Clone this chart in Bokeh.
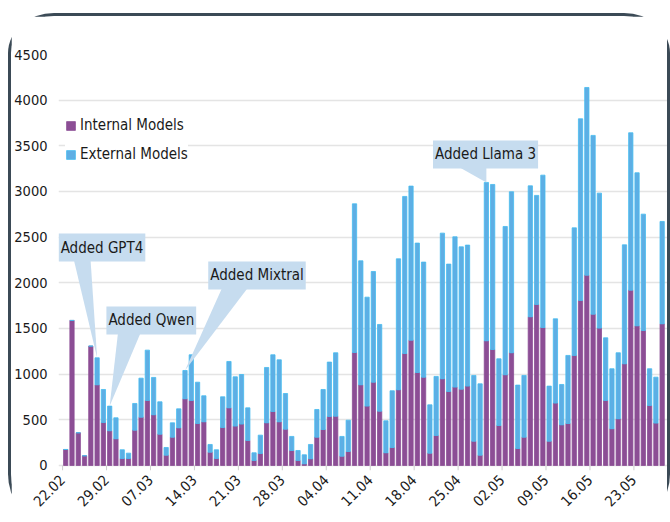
import math
import pandas as pd
from bokeh.plotting import figure
from bokeh.models import ColumnDataSource, FixedTicker, Label, Range1d
from bokeh.embed import file_html
from bokeh.resources import INLINE

# ---- data ----
start_date = "2024-02-22"
n_days = 96
internal = [175, 1588, 358, 106, 1307, 883, 471, 380, 292, 77,
            77, 387, 529, 712, 555, 343, 113, 310, 412, 730,
            712, 460, 478, 146, 77, 416, 631, 431, 453, 274,
            55, 131, 467, 591, 478, 398, 164, 55, 18, 73,
            310, 394, 537, 540, 102, 153, 1237, 883, 650, 912,
            595, 139, 197, 829, 1226, 1372, 1018, 967, 135, 329,
            949, 810, 858, 836, 869, 266, 113, 1365, 1270, 438,
            993, 1234, 186, 310, 1628, 1763, 1511, 266, 683, 445,
            460, 1205, 1807, 2084, 1657, 1504, 712, 402, 511, 1113,
            1920, 1529, 1478, 657, 464, 1551]
external = [0, 0, 0, 0, 0, 296, 361, 270, 230, 95,
            58, 292, 427, 551, 409, 354, 84, 157, 208, 310,
            500, 452, 285, 84, 95, 336, 508, 540, 543, 357,
            84, 201, 606, 621, 679, 390, 154, 109, 99, 157,
            303, 438, 595, 694, 216, 343, 1628, 1358, 1193, 1212,
            949, 350, 621, 1434, 1720, 1687, 1417, 1260, 529, 646,
            1595, 1395, 1646, 1558, 1544, 720, 781, 1734, 1807, 730,
            1624, 1763, 694, 676, 1434, 1194, 1668, 603, 923, 442,
            745, 1397, 1989, 2055, 1957, 1478, 686, 657, 723, 1303,
            1723, 1676, 1274, 402, 503, 1121]
series_labels = ["Internal Models", "External Models"]
y_ticks = [0, 500, 1000, 1500, 2000, 2500, 3000, 3500, 4000, 4500]

# annotations: text, bar index pointed at, box top-left (day, value), pointer base (day0, day1, value)
annotations = [
    ("Added GPT4", 5, (-0.63, 2540), (1.6, 4.4, 2278)),
    ("Added Qwen", 7, (6.98, 1741), (8.9, 12.7, 1467)),
    ("Added Mixtral", 19, (23.2, 2234), (25.7, 30.0, 1960)),
    ("Added Llama 3", 67, (59.0, 3559), (62.2, 67.5, 3274)),
]

dates = pd.date_range(start_date, periods=n_days, freq="D")
day_pos = [i + 0.5 for i in range(n_days)]
totals = [a + b for a, b in zip(internal, external)]
tick_pos = list(range(0, n_days, 7))

FONT = "'DejaVu Sans Condensed', 'Liberation Sans Narrow', sans-serif"
PURPLE = "#8c4e95"
BLUE = "#5eaee4"
BLUE_EDGE = "#45bdf0"
CALLOUT = "#c6dcef"
TXT = "#1a1a1a"
AXIS_GREY = "#cfcfcf"
TICK_LEN = 55  # value units below the baseline (~5px)

src = ColumnDataSource(dict(x=day_pos, internal=internal, external=external))

p = figure(width=656, height=506, output_backend="svg", toolbar_location=None,
           x_range=Range1d(-0.65, 96.35), y_range=Range1d(-TICK_LEN, 4500),
           min_border_left=45, min_border_right=6, min_border_top=38, min_border_bottom=55,
           styles={"box-sizing": "content-box",
                   "margin-left": "8px", "margin-top": "13px",
                   "border": "3px solid #3b4a56", "border-bottom": "none",
                   "border-radius": "46px 46px 40px 40px / 40px 40px 48px 48px"})
p.outline_line_color = None
p.background_fill_color = "white"
p.border_fill_color = "white"

p.xgrid.grid_line_color = None
p.ygrid.grid_line_color = "#e4e4e4"
p.ygrid.grid_line_width = 1.5

# tick marks below the baseline
p.segment(x0=tick_pos, y0=[0] * len(tick_pos), x1=tick_pos, y1=[-TICK_LEN] * len(tick_pos),
          line_color=AXIS_GREY, line_width=1)

p.vbar_stack(["internal", "external"], x="x", width=0.68, source=src,
             fill_color=[PURPLE, BLUE], line_color=[PURPLE, BLUE_EDGE], line_width=0.8,
             legend_label=series_labels)

# callout pointers
pxs, pys = [], []
for text, idx, (bx, by), (b0, b1, bb) in annotations:
    pxs.append([b0, b1, day_pos[idx]])
    pys.append([bb + 30, bb + 30, totals[idx]])
p.patches(pxs, pys, fill_color=CALLOUT, line_color=None)

for text, idx, (bx, by), base in annotations:
    p.add_layout(Label(x=bx, y=by, x_units="data", y_units="data", text=text,
                       anchor="top_left", text_font=FONT, text_font_size="15px",
                       text_color=TXT, background_fill_color=CALLOUT,
                       padding=(2, 5)))

# x axis: labels only (ticks drawn above as segments)
p.xaxis.ticker = FixedTicker(ticks=tick_pos)
p.xaxis.major_label_overrides = {t: dates[t].strftime("%d.%m") for t in tick_pos}
p.xaxis.major_label_orientation = math.pi / 4
p.xaxis.axis_line_color = None
p.xaxis.major_tick_line_color = None
p.xaxis.minor_tick_line_color = None
p.xaxis.major_label_standoff = 1
p.xaxis.major_label_text_font = FONT
p.xaxis.major_label_text_font_size = "14.5px"
p.xaxis.major_label_text_color = TXT

p.yaxis.ticker = FixedTicker(ticks=y_ticks)
p.yaxis.axis_line_color = None
p.yaxis.major_tick_line_color = None
p.yaxis.minor_tick_line_color = None
p.yaxis.major_tick_out = 0
p.yaxis.major_tick_in = 0
p.yaxis.major_label_standoff = 11
p.yaxis.major_label_text_font = FONT
p.yaxis.major_label_text_font_size = "14.5px"
p.yaxis.major_label_text_color = TXT

lg = p.legend[0]
lg.location = (7, 306)
lg.padding = 11
lg.margin = 0
lg.spacing = 9
lg.label_height = 20
lg.glyph_height = 11
lg.glyph_width = 11
lg.label_standoff = 4
lg.border_line_color = None
lg.background_fill_color = "white"
lg.background_fill_alpha = 1
lg.label_text_font = FONT
lg.label_text_font_size = "15px"
lg.label_text_color = TXT

open("out.html", "w").write(file_html(p, INLINE))
